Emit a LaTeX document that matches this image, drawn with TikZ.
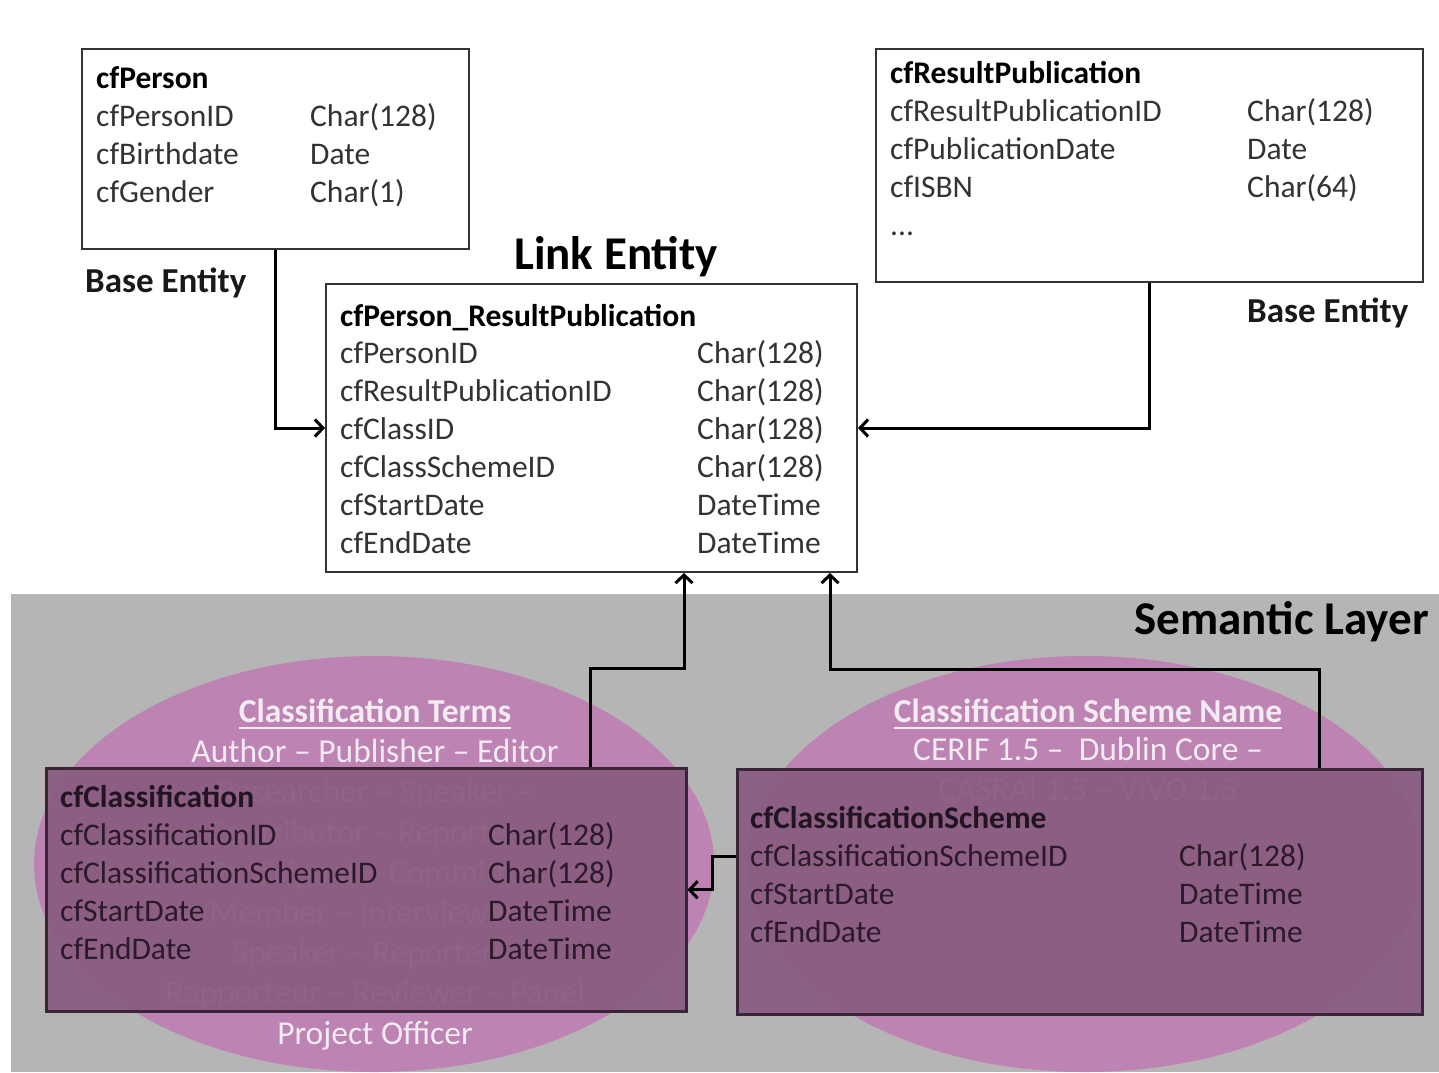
\documentclass[tikz,border=0pt]{standalone}
\usepackage{fontspec}
\setmainfont{Carlito}
\usetikzlibrary{arrows.meta}
\definecolor{graybg}{HTML}{B5B5B5}
\definecolor{ellcol}{HTML}{BD83B3}
\definecolor{boxpurple}{HTML}{895C82}
\definecolor{boxline}{HTML}{3A2438}
\definecolor{txtgray}{HTML}{333333}
\definecolor{txtdark}{HTML}{2B1A29}
\definecolor{elltxt}{HTML}{F3EAF2}
\tikzset{
  ebox/.style={draw=txtgray, line width=2pt, fill=white, anchor=north west, inner sep=0},
  pbox/.style={draw=boxline, line width=2.5pt, fill=boxpurple, fill opacity=0.94, anchor=north west, inner sep=0},
  row/.style={anchor=base west, inner sep=0, font=\fontsize{31.5}{36}\selectfont, text=txtgray},
  rowb/.style={row, font=\fontsize{31.5}{36}\selectfont\bfseries, text=black},
  prow/.style={row, text=txtdark},
  prowb/.style={rowb, text=txtdark!80!black},
  lbl/.style={anchor=base west, inner sep=0, font=\fontsize{35}{40}\selectfont\bfseries, text=black!90},
  big/.style={inner sep=0, font=\fontsize{47}{52}\selectfont\bfseries, text=black},
  etxt/.style={anchor=base, inner sep=0, font=\fontsize{33.5}{38}\selectfont, text=elltxt},
  etitle/.style={etxt, font=\fontsize{33.5}{38}\selectfont\bfseries},
  conn/.style={draw=black, line width=3pt, -{Straight Barb[length=8pt,width=17pt]}}
}
\begin{document}
\begin{tikzpicture}[x=1pt,y=-1pt]
\useasboundingbox (0,0) rectangle (1439,1072);
\fill[white] (0,0) rectangle (1439,1072);
% semantic layer band
\fill[graybg] (11,594) rectangle (1439,1072);
\node[big, anchor=base east] (sem) at (1429,634) {Semantic Layer};
% ellipses
\fill[ellcol] (374,864) ellipse [x radius=340pt, y radius=208pt];
\fill[ellcol] (1085,864) ellipse [x radius=338pt, y radius=208pt];
% left ellipse texts
\node[etitle] (et1) at (375,722) {Classification Terms};
\draw[elltxt, line width=2pt] ([yshift=-6pt]et1.base west) -- ([yshift=-6pt]et1.base east);
\node[etxt] (l1) at (375,762) {Author – Publisher – Editor};
\node[etxt] (l2) at (375,802) {Researcher – Speaker –};
\node[etxt] (l3) at (375,843) {Contributor – Reporter –};
\node[etxt] (l4) at (375,883) {Participant – Committee};
\node[etxt] (l5) at (375,923) {Member – Interviewer –};
\node[etxt] (l6) at (375,963) {Speaker – Reporter –};
\node[etxt] (l7) at (375,1003) {Rapporteur – Reviewer – Panel};
\node[etxt] (l8) at (375,1044) {Project Officer};
% right ellipse texts
\node[etitle] (et2) at (1088,722) {Classification Scheme Name};
\draw[elltxt, line width=2pt] ([yshift=-6pt]et2.base west) -- ([yshift=-6pt]et2.base east);
\node[etxt] (r1) at (1088,760) {CERIF 1.5 –\ \ Dublin Core –};
\node[etxt] (r2) at (1088,800) {CASRAI 1.5 – VIVO 1.5};
% white boxes
\node[ebox, minimum width=387, minimum height=200] (person) at (81,48) {};
\node[ebox, minimum width=547, minimum height=233] (pub) at (875,48) {};
\node[ebox, minimum width=531, minimum height=288] (link) at (325,283) {};
% purple boxes
\node[pbox, minimum width=640, minimum height=243] (cls) at (45,767) {};
\node[pbox, minimum width=685, minimum height=245] (sch) at (736,768) {};
% labels
\node[lbl] (be1) at (85,292) {Base Entity};
\node[lbl] (be2) at (1247,322) {Base Entity};
\node[big, anchor=base west] (le) at (514,269) {Link Entity};
% cfPerson
\node[rowb] (p0) at (96,88) {cfPerson};
\node[row] (p1) at (96,126) {cfPersonID};
\node[row] (p2) at (96,164) {cfBirthdate};
\node[row] (p3) at (96,202) {cfGender};
\node[row] (p1t) at (310,126) {Char(128)};
\node[row] (p2t) at (310,164) {Date};
\node[row] (p3t) at (310,202) {Char(1)};
% cfResultPublication
\node[rowb] (r0) at (890,83) {cfResultPublication};
\node[row] (rp1) at (890,121) {cfResultPublicationID};
\node[row] (rp2) at (890,159) {cfPublicationDate};
\node[row] (rp3) at (890,197) {cfISBN};
\node[row] (rp4) at (890,235) {...};
\node[row] (rp1t) at (1247,121) {Char(128)};
\node[row] (rp2t) at (1247,159) {Date};
\node[row] (rp3t) at (1247,197) {Char(64)};
% link entity
\node[rowb] (k0) at (340,326) {cfPerson\_ResultPublication};
\node[row] (k1) at (340,363) {cfPersonID};
\node[row] (k2) at (340,401) {cfResultPublicationID};
\node[row] (k3) at (340,439) {cfClassID};
\node[row] (k4) at (340,477) {cfClassSchemeID};
\node[row] (k5) at (340,515) {cfStartDate};
\node[row] (k6) at (340,553) {cfEndDate};
\node[row] (k1t) at (697,363) {Char(128)};
\node[row] (k2t) at (697,401) {Char(128)};
\node[row] (k3t) at (697,439) {Char(128)};
\node[row] (k4t) at (697,477) {Char(128)};
\node[row] (k5t) at (697,515) {DateTime};
\node[row] (k6t) at (697,553) {DateTime};
% cfClassification
\node[prowb] (c0) at (60,807) {cfClassification};
\node[prow] (c1) at (60,845) {cfClassificationID};
\node[prow] (c2) at (60,883) {cfClassificationSchemeID};
\node[prow] (c3) at (60,921) {cfStartDate};
\node[prow] (c4) at (60,959) {cfEndDate};
\node[prow] (c1t) at (488,845) {Char(128)};
\node[prow] (c2t) at (488,883) {Char(128)};
\node[prow] (c3t) at (488,921) {DateTime};
\node[prow] (c4t) at (488,959) {DateTime};
% cfClassificationScheme
\node[prowb] (s0) at (750,828) {cfClassificationScheme};
\node[prow] (s1) at (750,866) {cfClassificationSchemeID};
\node[prow] (s2) at (750,904) {cfStartDate};
\node[prow] (s3) at (750,942) {cfEndDate};
\node[prow] (s1t) at (1179,866) {Char(128)};
\node[prow] (s2t) at (1179,904) {DateTime};
\node[prow] (s3t) at (1179,942) {DateTime};
% connectors
\coordinate (a1) at (590,668);
\coordinate (a2) at (684,668);
\coordinate (b1) at (1319,669);
\coordinate (b2) at (830,669);
\coordinate (d1) at (712,856);
\draw[conn] (person.south) |- (link.west);
\draw[conn] (pub.south) |- (link.east);
\draw[conn] (cls.north -| a1) -- (a1) -- (a2) -- (link.south -| a2);
\draw[conn] (sch.north -| b1) -- (b1) -- (b2) -- (link.south -| b2);
\draw[conn] (sch.west |- d1) -- (d1) |- (cls.east);
\end{tikzpicture}
\end{document}
